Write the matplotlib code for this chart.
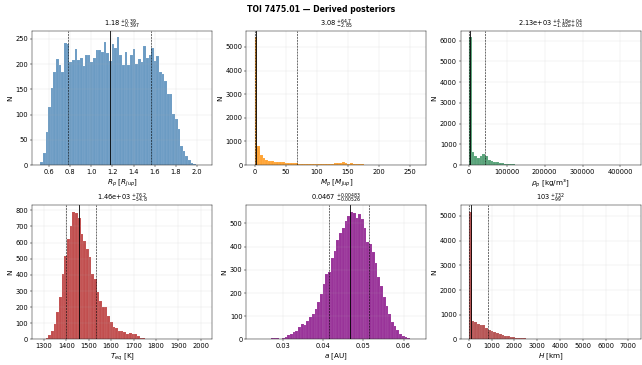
import matplotlib
matplotlib.use("Agg")
import matplotlib.pyplot as plt
from matplotlib.ticker import MultipleLocator
import numpy as np

# histogram counts, with the data range of each panel
rp_range = (0.517, 2.067)
rp_counts = [6, 24, 66, 116, 152, 184, 211, 198, 185, 242, 240, 205, 208, 230, 208, 213,
             196, 218, 219, 205, 212, 229, 229, 224, 244, 223, 206, 239, 232, 253, 219, 199,
             224, 199, 219, 231, 201, 211, 205, 235, 212, 219, 232, 206, 216, 185, 180, 166,
             140, 140, 102, 91, 71, 37, 28, 18, 10, 5, 3, 1, 0, 1]
rp_stats = (1.18, 0.39, 0.397)

mp_range = (0.0, 264.0)
mp_counts = [5400, 790, 430, 290, 230, 190, 160, 140, 130, 120, 115, 100, 90, 80, 75, 70,
             65, 60, 55, 55, 50, 50, 45, 45, 50, 55, 50, 60, 65, 90, 85, 110, 120, 70, 60, 95,
             55, 40, 35, 30, 25, 20, 15, 10, 8, 6, 5, 4, 3, 2, 2, 1, 1, 1, 0, 1, 0, 0, 0, 1]
mp_stats = (3.08, 64.7, 2.85)

rho_range = (0.0, 432000.0)
rho_counts = [6150, 620, 420, 320, 420, 540, 450, 260, 200, 160, 130, 100, 80, 60, 50, 40,
              30, 20, 12, 8, 5, 3, 2, 1, 1, 0, 0, 0, 0, 0, 0, 0, 0, 0, 0, 0, 0, 0, 0, 0,
              0, 0, 0, 0, 0, 0, 0, 0, 0, 0, 0, 0, 0, 0, 0, 0, 0, 0, 0, 1]
rho_stats = (2130.0, 41800.0, 1820.0)

teq_range = (1283.0, 2015.0)
teq_counts = [1, 3, 10, 29, 51, 93, 169, 263, 405, 514, 621, 700, 791, 786, 755, 652,
              611, 560, 508, 405, 374, 292, 240, 200, 200, 148, 111, 80, 70, 55, 50, 45,
              35, 40, 35, 35, 20, 10, 8, 3, 2, 2, 3, 2, 2, 4, 1, 2, 1, 0, 1, 0, 0, 1,
              0, 0, 1, 0, 0, 0, 1]
teq_stats = (1455.0, 76.2, 54.8)

a_range = (0.02296, 0.06366)
a_counts = [1, 0, 1, 2, 2, 3, 5, 6, 5, 4, 8, 12, 18, 24, 30, 38, 52, 66, 62, 81, 96, 110,
            130, 160, 196, 239, 284, 290, 350, 380, 429, 460, 481, 510, 531, 550, 545, 524,
            541, 520, 481, 420, 410, 377, 331, 271, 231, 181, 146, 110, 77, 60, 39, 22, 17,
            10, 5, 3, 2, 1]
a_stats = (0.0467, 0.00483, 0.00526)

h_range = (4.0, 7180.0)
h_counts = [5170, 740, 700, 610, 590, 570, 470, 390, 330, 290, 250, 210, 180, 150, 125, 105,
            88, 72, 60, 50, 42, 35, 30, 26, 22, 18, 15, 12, 10, 8, 6, 5, 4, 3, 3, 2, 2, 1, 1,
            1, 1, 0, 0, 0, 0, 0, 0, 0, 0, 0, 0, 0, 0, 0, 0, 0, 0, 0, 0, 1]
h_stats = (103.0, 732.0, 99.0)

panels = [
    (rp_range, rp_counts, rp_stats, "steelblue", r"$R_p$ [$R_{Jup}$]",
     r"1.18 $^{+0.39}_{-0.397}$"),
    (mp_range, mp_counts, mp_stats, "darkorange", r"$M_p$ [$M_{Jup}$]",
     r"3.08 $^{+64.7}_{-2.85}$"),
    (rho_range, rho_counts, rho_stats, "seagreen", r"$\rho_p$ [kg/m³]",
     r"2.13e+03 $^{+4.18e+04}_{-1.82e+03}$"),
    (teq_range, teq_counts, teq_stats, "firebrick", r"$T_{eq}$ [K]",
     r"1.46e+03 $^{+76.2}_{-54.8}$"),
    (a_range, a_counts, a_stats, "purple", r"$a$ [AU]",
     r"0.0467 $^{+0.00483}_{-0.00526}$"),
    (h_range, h_counts, h_stats, "brown", r"$H$ [km]",
     r"103 $^{+732}_{-99}$"),
]

fig, axes = plt.subplots(2, 3, figsize=(16.05, 9.125), dpi=40)
fig.subplots_adjust(left=0.05, right=0.998, top=0.915, bottom=0.07, wspace=0.19, hspace=0.3)

for ax, (rng, counts, stats, color, xlabel, title) in zip(axes.flat, panels):
    counts = np.array(counts, dtype=float)
    edges = np.linspace(rng[0], rng[1], len(counts) + 1)
    centers = 0.5 * (edges[:-1] + edges[1:])
    ax.hist(centers, bins=edges, weights=counts, color=color, alpha=0.8,
            edgecolor="white", linewidth=0.15)
    med, plus, minus = stats
    ax.axvline(med, color="black", lw=1.5)
    ax.axvline(med - minus, color="black", ls="--", lw=1.0)
    ax.axvline(med + plus, color="black", ls="--", lw=1.0)
    ax.set_xlabel(xlabel, fontsize=13)
    ax.set_ylabel("N", fontsize=13)
    ax.set_title(title, fontsize=12)
    ax.tick_params(labelsize=12)
    ax.grid(alpha=0.3)

axes[1, 1].xaxis.set_major_locator(MultipleLocator(0.01))

fig.suptitle("TOI 7475.01 — Derived posteriors", fontsize=14, fontweight="bold", y=0.985)
fig.savefig("out.png", dpi=40)
